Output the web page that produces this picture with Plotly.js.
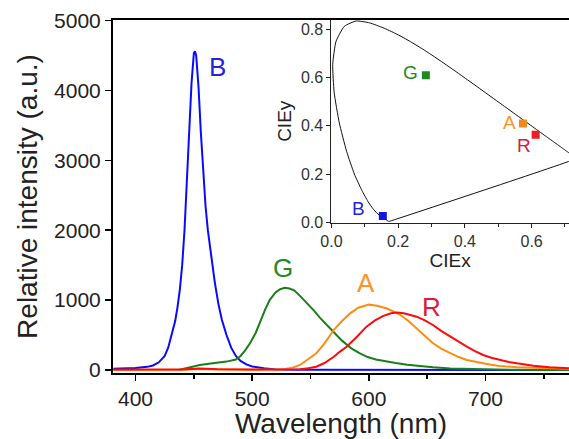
<!DOCTYPE html>
<html><head><meta charset="utf-8">
<script src="https://cdn.plot.ly/plotly-3.0.1.min.js"></script>
<style>html,body{margin:0;padding:0;background:#fff}</style>
</head><body><div id="chart" style="width:569px;height:439px"></div>
<script>
// Emission spectra (wavelength nm, relative intensity a.u.)
const blueWl  = [381,390,400,410,415,420,425,428,431,434,436,438,440,442,444,446,448,450,451,452,454,456,458,460,462,465,468,471,474,478,482,486,490,495,500,510,520,540,600,700,772];
const blueInt = [18,22,30,45,65,110,200,320,500,700,900,1150,1500,2000,2700,3400,4100,4530,4560,4500,4050,3400,2800,2350,2000,1600,1250,950,720,500,320,200,130,80,50,25,8,2,1,1,1];

const greenWl  = [437,445,455,466,478,486,490,494,498,503,507,511,515,520,524,528,532,536,541,547,553,558,564,570,577,585,592,599,606,613,623,633,645,655,670,690,720,772];
const greenInt = [0,30,70,95,120,150,200,280,380,530,700,860,1000,1110,1155,1175,1165,1140,1060,960,850,750,640,540,420,310,240,185,150,125,100,75,50,38,20,10,4,0];

const amberWl  = [381,440,455,470,500,525,530,535,541,548,555,562,570,577,584,591,600,607,615,621,627,634,641,648,655,662,670,677,684,691,698,705,712,727,741,755,772];
const amberInt = [0,2,15,10,2,5,15,35,72,150,239,380,575,700,811,890,935,920,883,840,787,700,597,490,382,305,239,185,143,115,96,75,57,40,30,22,16];

const redWl  = [381,440,455,470,500,530,541,548,555,562,570,575,581,590,598,605,612,619,624,630,636,641,648,655,662,670,677,684,691,698,705,712,720,727,734,741,755,772];
const redInt = [6,8,20,12,7,7,12,25,47,100,190,260,333,480,620,705,770,812,822,812,790,763,710,644,560,477,400,333,270,215,175,143,115,95,76,62,40,24];

// CIE 1931 spectral locus (380-700 nm) closed by the purple line
const cieX = [0.1741,0.1740,0.1738,0.1736,0.1733,0.1730,0.1726,0.1721,0.1714,0.1703,0.1689,0.1669,0.1644,0.1611,0.1566,0.1510,0.1440,0.1355,0.1241,0.1096,0.0913,0.0687,0.0454,0.0235,0.0082,0.0039,0.0139,0.0389,0.0743,0.1142,0.1547,0.1929,0.2296,0.2658,0.3016,0.3373,0.3731,0.4087,0.4441,0.4788,0.5125,0.5448,0.5752,0.6029,0.6270,0.6482,0.6658,0.6801,0.6915,0.7006,0.7079,0.7140,0.7190,0.7230,0.7260,0.7300,0.7320,0.7334,0.7347,0.1741];
const cieY = [0.0050,0.0050,0.0049,0.0049,0.0048,0.0048,0.0048,0.0048,0.0051,0.0058,0.0069,0.0086,0.0109,0.0138,0.0177,0.0227,0.0297,0.0399,0.0578,0.0868,0.1327,0.2007,0.2950,0.4127,0.5384,0.6548,0.7502,0.8120,0.8338,0.8262,0.8059,0.7816,0.7543,0.7243,0.6923,0.6589,0.6245,0.5896,0.5547,0.5202,0.4866,0.4544,0.4242,0.3965,0.3725,0.3514,0.3340,0.3197,0.3083,0.2993,0.2920,0.2859,0.2809,0.2770,0.2740,0.2700,0.2680,0.2666,0.2653,0.0050];

// Chromaticity points of the four LEDs
const ledNames = ['B','G','A','R'];
const ledX = [0.154,0.283,0.574,0.612];
const ledY = [0.027,0.609,0.410,0.363];
const ledColors = ['#1414e6','#1f8a1f','#f08a1e','#ee1c24'];

// Label positions
const specLabelX = [470,526,598,654];
const specLabelY = [4335,1460,1250,905];
const cieLabelX = [0.080,0.236,0.533,0.578];
const cieLabelY = [0.056,0.620,0.412,0.317];
const labelColors = ['#2424e0','#248a24','#ff9428','#e0183a'];

const lineCol = {B:'#0a0aff', G:'#1a7f1a', A:'#ff8c10', R:'#ff0a0a'};

const traces = [
  {x:blueWl, y:blueInt, mode:'lines', line:{color:lineCol.B,width:2}, xaxis:'x', yaxis:'y'},
  {x:greenWl, y:greenInt, mode:'lines', line:{color:lineCol.G,width:2}, xaxis:'x', yaxis:'y'},
  {x:amberWl, y:amberInt, mode:'lines', line:{color:lineCol.A,width:2}, xaxis:'x', yaxis:'y'},
  {x:redWl, y:redInt, mode:'lines', line:{color:lineCol.R,width:2}, xaxis:'x', yaxis:'y'},
  {x:cieX, y:cieY, mode:'lines', line:{color:'#111',width:1, shape:'spline', smoothing:0.5}, xaxis:'x2', yaxis:'y2'},
  {x:ledX, y:ledY, mode:'markers', marker:{symbol:'square', size:8, color:ledColors}, xaxis:'x2', yaxis:'y2'}
];

const annotations = [];
ledNames.forEach((n,i)=>{
  annotations.push({x:specLabelX[i], y:specLabelY[i], xref:'x', yref:'y', text:n, showarrow:false,
    font:{size:26, color:labelColors[i], family:'Liberation Sans, Arial, sans-serif'}});
  annotations.push({x:cieLabelX[i], y:cieLabelY[i], xref:'x2', yref:'y2', text:n, showarrow:false,
    font:{size:19, color:labelColors[i], family:'Liberation Sans, Arial, sans-serif'}});
});

const layout = {
  width:569, height:439,
  margin:{l:113, r:0, t:20, b:66},
  paper_bgcolor:'#fff', plot_bgcolor:'#fff',
  showlegend:false,
  font:{family:'Liberation Sans, Arial, sans-serif', color:'#222'},
  xaxis:{
    range:[380.7,771.6], showline:true, linewidth:2, linecolor:'#000', mirror:true,
    ticks:'outside', ticklen:6, tickwidth:1.5, tickcolor:'#000',
    tickvals:[400,500,600,700],
    minor:{ticks:'outside', tickvals:[450,550,650,750], ticklen:4, tickwidth:1.5, tickcolor:'#000'},
    showgrid:false, zeroline:false,
    tickfont:{size:21, color:'#222'},
    title:{text:'Wavelength (nm)', font:{size:28, color:'#222'}, standoff:5}
  },
  yaxis:{
    range:[-43,5007], showline:true, linewidth:2, linecolor:'#000',
    ticks:'outside', ticklen:6, tickwidth:1.5, tickcolor:'#000',
    tickvals:[0,1000,2000,3000,4000,5000],
    showgrid:false, zeroline:false,
    tickfont:{size:21, color:'#222'},
    title:{text:'Relative intensity (a.u.)', font:{size:28, color:'#222'}, standoff:8}
  },
  xaxis2:{
    domain:[0.479,1], anchor:'y2', range:[0,0.712],
    showline:true, linewidth:1, linecolor:'#222',
    ticks:'outside', ticklen:4, tickcolor:'#222',
    tickvals:[0,0.2,0.4,0.6], ticktext:['0.0','0.2','0.4','0.6'],
    minor:{ticks:'outside', tickvals:[0.1,0.3,0.5,0.7], ticklen:3, tickcolor:'#222'},
    showgrid:false, zeroline:false,
    tickfont:{size:16, color:'#333'},
    title:{text:'CIEx', font:{size:19, color:'#222'}, standoff:0}
  },
  yaxis2:{
    domain:[0.4263,1.0], anchor:'x2', range:[0,0.838],
    showline:true, linewidth:1, linecolor:'#222',
    ticks:'outside', ticklen:4, tickcolor:'#222',
    tickvals:[0,0.2,0.4,0.6,0.8], ticktext:['0.0','0.2','0.4','0.6','0.8'],
    showgrid:false, zeroline:false,
    tickfont:{size:16, color:'#333'},
    title:{text:'CIEy', font:{size:19, color:'#222'}, standoff:4}
  },
  annotations:annotations
};

Plotly.newPlot('chart', traces, layout, {staticPlot:true, displayModeBar:false});
</script></body></html>
